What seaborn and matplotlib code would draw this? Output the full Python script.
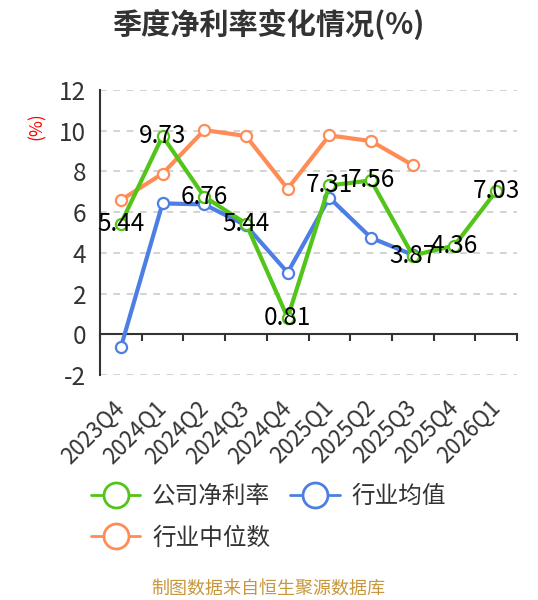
import numpy as np
import pandas as pd
import matplotlib
matplotlib.use("Agg")
import matplotlib.pyplot as plt
import seaborn as sns
from matplotlib.lines import Line2D

categories = ["2023Q4", "2024Q1", "2024Q2", "2024Q3", "2024Q4",
              "2025Q1", "2025Q2", "2025Q3", "2025Q4", "2026Q1"]
company = [5.44, 9.73, 6.76, 5.44, 0.81, 7.31, 7.56, 3.87, 4.36, 7.03]
industry_mean = [-0.64, 6.43, 6.38, 5.35, 3.03, 6.71, 4.74, 3.90, np.nan, np.nan]
industry_median = [6.59, 7.89, 10.03, 9.74, 7.15, 9.77, 9.49, 8.31, np.nan, np.nan]
series_names = ["公司净利率", "行业均值", "行业中位数"]
yticks = [-2, 0, 2, 4, 6, 8, 10, 12]

sns.set_theme(style="white")
plt.rcParams['font.family'] = ['Noto Sans CJK SC', 'DejaVu Sans']
plt.rcParams['axes.unicode_minus'] = False

colors = ["#52C41A", "#4C7EE4", "#FF8C57"]
fig = plt.figure(figsize=(5.38, 6.0), dpi=100)
ax = fig.add_axes([100/538, 1-375/600, 417/538, 285/600])

data = [company, industry_mean, industry_median]
x_pos = np.arange(len(categories))
order = [2, 1, 0]
for i in order:
    df = pd.DataFrame({"x": x_pos, "y": data[i]}).dropna()
    sns.lineplot(data=df, x="x", y="y", ax=ax, color=colors[i], linewidth=3,
                 marker="o", markersize=8, markerfacecolor="white",
                 markeredgecolor=colors[i], markeredgewidth=1.6, sort=False,
                 zorder=3 + (2 - i), legend=False)

for xi, v in zip(x_pos, company):
    ax.text(xi, v, f"{v:.2f}", ha="center", va="center", fontsize=17.5,
            color="black", zorder=10)

ax.set_xlim(-0.5, len(categories) - 0.5)
ax.set_ylim(-2, 12)
ax.set_yticks(yticks)
ax.set_yticklabels([str(t) for t in yticks])
ax.set_xticks(x_pos)
ax.set_xticklabels(categories, rotation=45, ha="right", rotation_mode="anchor",
                   va="center")
ax.tick_params(axis="x", length=0, pad=21, labelsize=16, labelcolor="#333333")
ax.tick_params(axis="y", length=5, width=1.5, color="#333333", direction="out",
               labelsize=17.5, labelcolor="#333333", pad=5)
ax.set_xlabel("")
ax.set_ylabel("")

for t in yticks:
    if t != 0:
        ax.axhline(t, color="#cccccc", linestyle=(0, (4, 4)), linewidth=1.2, zorder=1)

for s in ["top", "right", "bottom"]:
    ax.spines[s].set_visible(False)
ax.spines["left"].set_color("#333333")
ax.spines["left"].set_linewidth(1.5)

# x axis line at zero with boundary ticks
zero_loc = (0 - (-2)) / (12 - (-2))
sec = ax.secondary_xaxis(zero_loc)
sec.set_xticks(np.arange(-0.5, len(categories), 1.0))
sec.set_xticklabels([])
sec.tick_params(axis="x", direction="out", length=5, width=1.5, color="#333333")
sec.spines["bottom"].set_color("#333333")
sec.spines["bottom"].set_linewidth(1.5)

fig.text(37/538, 1-126/600, "(%)", rotation=90, color="red", fontsize=12.5,
         ha="center", va="center")

fig.text(268/538, 1-24/600, "季度净利率变化情况(%)", ha="center", va="center",
         fontsize=21, fontweight="bold", color="#333333")

handles = []
for i in [0, 2, 1]:
    handles.append(Line2D([], [], color=colors[i], linewidth=2, marker="o",
                          markersize=18, markerfacecolor="white",
                          markeredgecolor=colors[i], markeredgewidth=2,
                          label=series_names[i]))
fig.legend(handles=handles, loc="upper left", bbox_to_anchor=(79/538, 1-473/600),
           ncol=2, frameon=False, fontsize=17, handlelength=2.1,
           labelspacing=0.8, columnspacing=0.85, handletextpad=0.5,
           borderpad=0, labelcolor="#333333")

fig.text(268/538, 1-589/600, "制图数据来自恒生聚源数据库", ha="center", va="center",
         fontsize=13, color="#C8963C")

fig.savefig("out.png", dpi=100)
